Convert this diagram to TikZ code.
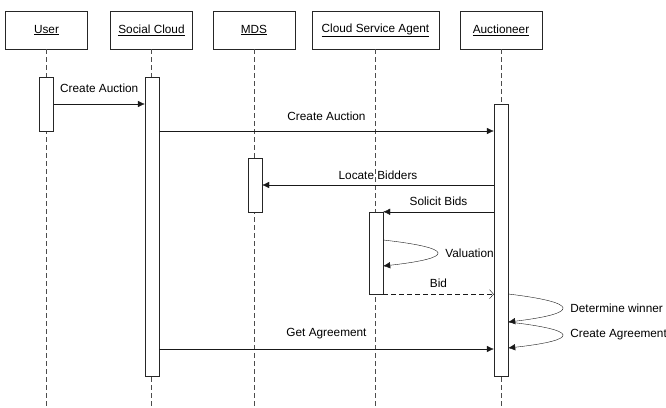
\documentclass[tikz,border=0pt]{standalone}
\usepackage{fontspec}
\setmainfont{Liberation Sans}
\usetikzlibrary{arrows.meta}
\begin{document}
\begin{tikzpicture}[x=1pt,y=-1pt,font=\fontsize{11.8}{14}\selectfont]
    \tikzset{%
      head/.style={draw, black!85, text=black, fill=white, inner sep=0pt,
        minimum width=82pt, minimum height=38pt},
      act/.style={draw, black!85, fill=white, inner sep=0pt, minimum
        width=14pt},
      life/.style={black!70, dash pattern=on 5pt off 3pt},
      msg/.style={black!90, -{Latex[length=7pt,width=6.5pt]}},
      reply/.style={black!90, dash pattern=on 5pt off 3pt,
        -{Straight Barb[length=4pt,width=9pt]}},
      lbl/.style={anchor=base, inner sep=0pt, text=black},
      side/.style={right=8pt, inner sep=0pt, text=black},
    }
    \useasboundingbox (0,0) rectangle (666,407);

    \node[head] (user) at (46.5,30) {\underline{User}};
    \node[head] (social) at (151.5,30) {\underline{Social Cloud}};
    \node[head] (mds) at (254,30) {\underline{MDS}};
    \node[head, minimum width=127pt] (agent) at (375.5,30) {\underline{Cloud Service Agent}};
    \node[head] (auct) at (501,30) {\underline{Auctioneer}};

    % lifelines
    \draw[life] (user.south) -- (user.south |- 0,407);
    \draw[life] (social.south) -- (social.south |- 0,407);
    \draw[life] (mds.south) -- (mds.south |- 0,407);
    \draw[life] (agent.south) -- (agent.south |- 0,407);
    \draw[life] (auct.south) -- (auct.south |- 0,407);

    % activations
    \node[act, minimum height=54pt] (useract) at (46.5,104) {};
    \node[act, minimum height=299pt] (socialact) at (152,226.5) {};
    \node[act, minimum height=54pt] (mdsact) at (255,185) {};
    \node[act, minimum height=82pt] (agentact) at (376,253) {};
    \node[act, minimum height=272pt] (auctact) at (501,240) {};

    \draw[msg] (useract.east) -- node[lbl, yshift=12pt] {Create Auction}
      (useract.east -| socialact.west);
    \draw[msg] (socialact.east |- 0,131) -- node[lbl, yshift=11pt] {Create Auction}
      (auctact.west |- 0,131);
    \draw[msg] (auctact.west |- mdsact.east) -- node[lbl, yshift=6pt] {Locate Bidders}
      (mdsact.east);
    \draw[msg] (auctact.west |- agentact.north) -- node[lbl, yshift=6.5pt] {Solicit Bids}
      (agentact.north east);
    \draw[msg] (agentact.east |- 0,240) .. controls +(72,8) and +(72,-8) ..
      (agentact.east |- 0,266) node[pos=0.5, side] {Valuation};
    \draw[reply] (agentact.south east) -- node[lbl, yshift=7pt] {Bid}
      (auctact.west |- agentact.south);
    \draw[msg] (auctact.east |- 0,294) .. controls +(72,8.5) and +(72,-8.5) ..
      (auctact.east |- 0,322) node[pos=0.5, side] {Determine winner};
    \draw[msg] (auctact.east |- 0,322) .. controls +(72,8) and +(72,-8) ..
      (auctact.east |- 0,348) node[pos=0.5, side] {Create Agreement};
    \draw[msg] (socialact.east |- 0,349) -- node[lbl, yshift=13pt] {Get Agreement}
      (auctact.west |- 0,349);
  \end{tikzpicture}
\end{document}
